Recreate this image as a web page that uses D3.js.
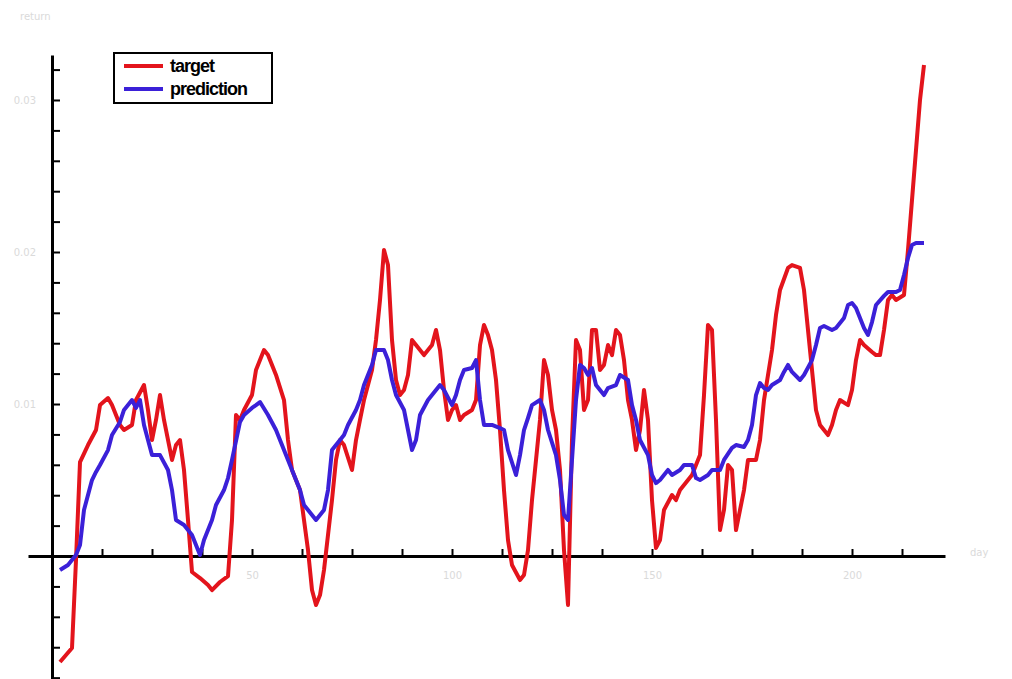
<!DOCTYPE html>
<html>
<head>
<meta charset="utf-8">
<script src="https://cdn.jsdelivr.net/npm/d3@7"></script>
<style>
  html, body { margin: 0; padding: 0; background: #fff; }
  svg { display: block; }
</style>
</head>
<body>
<svg id="chart" width="1012" height="679"></svg>
<script>
// Daily series: observed target vs. model prediction
const targetDay = [2,5,6,7,9,11,12,14,15,17,18,20,21,23,24,25,26,27,28,30,31,32,33,34,35,37,39,40,42,44,45,46,47,48,50,51,53,54,56,58,59,60,62,63,64,65,66,67,68,70,71,72,73,75,76,77,78,80,81,82,83,84,85,86,87,88,89,90,91,92,93,95,96,97,98,99,100,101,102,103,105,106,107,108,109,110,111,112,113,114,115,117,118,119,120,121,122,123,124,125,126,127,128,129,130,131,132,133,134,135,136,137,138,139,140,141,142,143,144,145,146,147,148,149,150,151,152,153,155,156,157,159,160,162,163,164,165,166,167,168,169,170,171,173,174,176,177,178,180,181,182,184,185,187,188,189,190,191,192,194,195,196,197,199,200,201,202,203,205,206,207,208,209,210,211,213,214,215,216,217,218];
const targetValue = [-0.00697,-0.00605,-0.00026,0.00618,0.0073,0.00829,0.00993,0.01039,0.00993,0.00862,0.00829,0.00862,0.01026,0.01125,0.00961,0.00763,0.00895,0.01059,0.00895,0.00632,0.0073,0.00763,0.00566,0.00237,-0.00105,-0.00145,-0.00191,-0.00224,-0.00171,-0.00132,0.00237,0.00928,0.00895,0.00961,0.01059,0.01224,0.01355,0.01322,0.01191,0.01026,0.00763,0.00566,0.00434,0.00237,0.00039,-0.00224,-0.00322,-0.00257,-0.00092,0.00368,0.00632,0.00763,0.0073,0.00566,0.00763,0.00895,0.01026,0.01224,0.01421,0.01684,0.02013,0.01914,0.01421,0.01158,0.01059,0.01092,0.01191,0.01421,0.01388,0.01355,0.01322,0.01388,0.01487,0.01355,0.01092,0.00895,0.00961,0.00993,0.00895,0.00928,0.00961,0.01026,0.01388,0.0152,0.01454,0.01355,0.01158,0.00829,0.00434,0.00105,-0.00059,-0.00158,-0.00125,0.00039,0.00368,0.00632,0.00895,0.01289,0.01191,0.00961,0.00829,0.00566,0.00039,-0.00322,0.00763,0.01421,0.01355,0.00961,0.01026,0.01487,0.01487,0.01224,0.01257,0.01388,0.01322,0.01487,0.01454,0.01289,0.01026,0.00895,0.00697,0.00829,0.01092,0.00895,0.00368,0.00053,0.00105,0.00303,0.00401,0.00368,0.00434,0.005,0.00533,0.00664,0.01059,0.0152,0.01487,0.00895,0.00171,0.00303,0.00599,0.00566,0.00171,0.00434,0.00632,0.00632,0.00763,0.01026,0.01355,0.01586,0.0175,0.01895,0.01914,0.01895,0.0175,0.01487,0.01224,0.00961,0.00862,0.00796,0.00862,0.00961,0.01026,0.00993,0.01092,0.01289,0.01421,0.01388,0.01342,0.01322,0.01322,0.01487,0.01684,0.01717,0.01684,0.01717,0.02013,0.02342,0.02671,0.03,0.0323];

const predDay = [2,4,6,7,8,10,11,12,14,15,17,18,20,21,22,23,25,26,27,29,30,31,33,35,36,37,38,40,41,43,44,45,47,48,50,51,52,54,56,58,60,62,63,65,66,68,69,70,72,73,74,76,77,78,80,81,83,84,85,86,88,89,90,91,92,94,95,97,98,100,101,102,103,105,106,107,108,110,112,113,114,116,117,118,119,120,122,123,124,126,127,128,129,130,131,132,133,134,135,136,138,139,141,142,144,145,146,147,149,150,151,152,154,155,157,158,160,161,162,164,165,167,168,170,171,173,174,175,176,177,178,179,180,182,183,184,185,187,188,190,191,192,193,195,196,198,199,200,201,202,203,204,205,206,208,209,211,212,213,214,215,216,218];
const predValue = [-0.00092,-0.00059,0.00007,0.00072,0.00303,0.005,0.00553,0.00599,0.00697,0.00796,0.00882,0.00961,0.01026,0.00974,0.01026,0.00862,0.00664,0.00664,0.00664,0.00566,0.00434,0.00237,0.00204,0.00138,0.00072,0.00007,0.00105,0.00237,0.00336,0.00434,0.00513,0.00632,0.00882,0.00928,0.00974,0.00993,0.01013,0.00928,0.00829,0.00697,0.00566,0.00434,0.00336,0.0027,0.00237,0.00303,0.00434,0.00697,0.00763,0.00796,0.00862,0.00961,0.01026,0.01125,0.01257,0.01355,0.01355,0.01289,0.01158,0.01059,0.00961,0.00829,0.00697,0.00763,0.00928,0.01026,0.01059,0.01125,0.01092,0.00993,0.01059,0.01158,0.01224,0.01237,0.01289,0.01026,0.00862,0.00862,0.00842,0.00829,0.00697,0.00533,0.00664,0.00829,0.00908,0.00993,0.01026,0.00961,0.00829,0.00664,0.005,0.0027,0.00237,0.00632,0.01026,0.01257,0.01237,0.01191,0.01237,0.01125,0.01059,0.01105,0.01125,0.01191,0.01158,0.00993,0.00895,0.00763,0.00664,0.00533,0.0048,0.005,0.00566,0.00533,0.00566,0.00599,0.00599,0.00513,0.005,0.00533,0.00566,0.00566,0.00632,0.00711,0.0073,0.00717,0.00763,0.00862,0.01059,0.01138,0.01105,0.01092,0.01125,0.01158,0.01211,0.01257,0.01211,0.01158,0.01191,0.01289,0.01388,0.015,0.01513,0.01487,0.015,0.01566,0.01651,0.01664,0.01632,0.01566,0.015,0.01454,0.01539,0.01651,0.01711,0.01737,0.01737,0.0175,0.01849,0.01961,0.02046,0.02059,0.02059];

const yTicks = [-0.008,-0.006,-0.004,-0.002,0,0.002,0.004,0.006,0.008,0.01,0.012,0.014,0.016,0.018,0.02,0.022,0.024,0.026,0.028,0.03,0.032];
const yLabels = [0.01, 0.02, 0.03];
const xTicks = [12.5,25,37.5,50,62.5,75,87.5,100,112.5,125,137.5,150,162.5,175,187.5,200,212.5];
const xLabels = [50, 100, 150, 200];

const seriesNames = ["target", "prediction"];
const seriesColors = ["#e3141c", "#3b20d8"];

const svg = d3.select("#chart");

const x = d3.scaleLinear().domain([-6, 223.25]).range([28, 945]);
const y = d3.scaleLinear().domain([-0.00809, 0.03296]).range([679, 55]);

const faint = "#dadada";

// y axis: ticks pointing into the plot, labels on the left
const yAxis = svg.append("g")
  .attr("transform", `translate(${x(0)},0)`)
  .call(d3.axisLeft(y).tickValues(yTicks).tickSizeInner(-8).tickSizeOuter(0).tickPadding(16)
    .tickFormat(d => yLabels.some(v => Math.abs(v - d) < 1e-9) ? d3.format(".2f")(d) : ""));
yAxis.select(".domain").attr("stroke", "#000").attr("stroke-width", 3);
yAxis.selectAll(".tick line").attr("stroke", "#000").attr("stroke-width", 2);
yAxis.selectAll(".tick text").attr("fill", faint).attr("font-family", "DejaVu Sans").attr("font-size", 10);

// x axis along zero: ticks pointing up, labels below
const xAxis = svg.append("g")
  .attr("transform", `translate(0,${y(0)})`)
  .call(d3.axisBottom(x).tickValues(xTicks).tickSizeInner(-7).tickSizeOuter(0).tickPadding(16)
    .tickFormat(d => xLabels.includes(d) ? String(d) : ""));
xAxis.select(".domain").attr("stroke", "#000").attr("stroke-width", 3);
xAxis.selectAll(".tick line").attr("stroke", "#000").attr("stroke-width", 2);
xAxis.selectAll(".tick text").attr("fill", faint).attr("font-family", "DejaVu Sans").attr("font-size", 10);

// axis titles
svg.append("text").attr("x", 20).attr("y", 20).text("return")
  .attr("fill", faint).attr("font-family", "DejaVu Sans").attr("font-size", 10);
svg.append("text").attr("x", 970).attr("y", 556).text("day")
  .attr("fill", faint).attr("font-family", "DejaVu Sans").attr("font-size", 10);

// series lines
const line = d3.line().x(d => x(d[0])).y(d => y(d[1]));
const series = [
  d3.zip(targetDay, targetValue),
  d3.zip(predDay, predValue)
];
series.forEach((pts, i) => {
  svg.append("path")
    .datum(pts)
    .attr("d", line)
    .attr("fill", "none")
    .attr("stroke", seriesColors[i])
    .attr("stroke-width", 4)
    .attr("stroke-linejoin", "round");
});

// legend
const legend = svg.append("g");
legend.append("rect").attr("x", 114).attr("y", 53).attr("width", 158).attr("height", 50)
  .attr("fill", "#fff").attr("stroke", "#000").attr("stroke-width", 2);
seriesNames.forEach((name, i) => {
  const ly = 66 + i * 23;
  legend.append("line").attr("x1", 124).attr("x2", 163).attr("y1", ly).attr("y2", ly)
    .attr("stroke", seriesColors[i]).attr("stroke-width", 4);
  legend.append("text").attr("x", 170).attr("y", ly + 6).text(name)
    .attr("font-family", "Liberation Sans").attr("font-weight", "bold")
    .attr("font-size", 18).attr("letter-spacing", -1).attr("fill", "#000");
});
</script>
</body>
</html>
